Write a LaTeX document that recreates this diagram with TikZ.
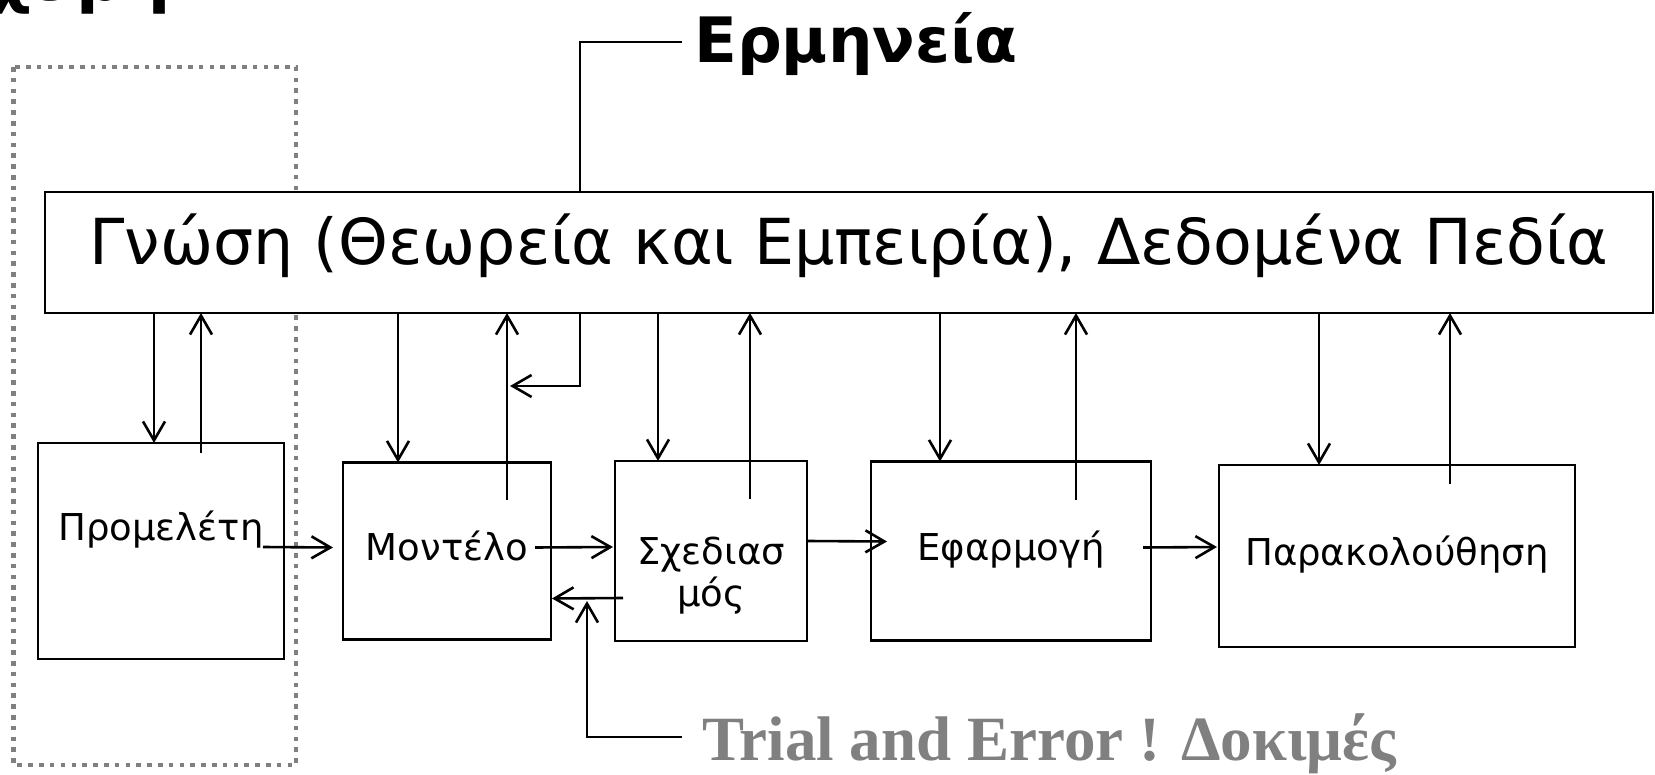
\documentclass[tikz,border=0pt]{standalone}
\usepackage{fontspec}
\setmainfont{DejaVu Sans}
\newfontfamily\serifbold{Liberation Serif}
\usetikzlibrary{arrows.meta,positioning,calc}
\definecolor{dGray}{RGB}{128,128,128}

\begin{document}
\begin{tikzpicture}[
			x=0.5pt,y=-0.5pt,
			>={Straight Barb[length=9.5pt,width=11pt]},
			b/.style={
				draw,
				line width=1.3pt,
				inner sep=0pt,
				outer sep=0pt,
				align=center,
				text height=14pt,
				text depth=4.5pt,
				font=\fontsize{18.5}{21}\selectfont
			},
			k/.style={
				draw,
				fill=white,
				line width=1.3pt,
				inner sep=0pt,
				outer sep=0pt,
				minimum width=804pt,
				minimum height=60.5pt,
				text height=24pt,
				text depth=11.5pt,
				font=\fontsize{31.7}{38}\selectfont
			},
			ln/.style={line width=1.3pt},
			ar/.style={->,line width=1.3pt}
			]
			\useasboundingbox (0,0) rectangle (1655,775);
			\draw[dGray,line width=2.3pt,dash pattern=on 2.3pt off 3.1pt](13.5,67) rectangle (296,765);
			\node[anchor=base west,inner sep=0pt,font=\fontsize{33}{40}\selectfont\bfseries](cut) at (-12,1){χάρη};
			\node[k](know) at (849,252.5){Γνώση (Θεωρεία και Εμπειρία), Δεδομένα Πεδία};
			\node[b,minimum width=123pt,minimum height=108pt,text depth=25pt](prom) at (161,551){Προμελέτη};
			\node[b,minimum width=104pt,minimum height=88.5pt,right=29.5pt of prom](mod){Μοντέλο};
			\node[b,minimum width=96pt,minimum height=90pt,text height=60pt,right=32pt of mod](sch){Σχεδιασ\\μός};
			\node[b,minimum width=140pt,minimum height=89.5pt,right=32pt of sch](efa){Εφαρμογή};
			\node[b,minimum width=178pt,minimum height=91pt,right=34pt of efa,yshift=-2.5pt](par){Παρακολούθηση};
			\node[anchor=base west,inner xsep=6pt,inner ysep=0pt,font=\fontsize{31.3}{38}\selectfont\bfseries](erm) at (682,63){Ερμηνεία};
			\node[anchor=base west,inner xsep=10pt,inner ysep=0pt,text=dGray,font=\fontsize{31.5}{36}\selectfont\serifbold\bfseries](tri) at (682,760){Trial and Error ! Δοκιμές};
			\coordinate(ermx) at (580,42);
			\coordinate(ermin) at (510,386);
			\draw[ln](erm.west |- ermx)--(ermx)--(ermx |- know.north);
			\draw[ar](ermx |- know.south)|-(ermin);
			\foreach \n/\dx/\ux/\us in {prom/154/201/10,mod/398/507/37,sch/658/750/38,efa/940/1076/38,par/1319/1450/19}{
				\draw[ar](know.south -| \dx,0)--(\n.north -| \dx,0);
				\draw[ar]($(\n.north -| \ux,0)+(0,\us)$)--(know.south -| \ux,0);
			}
			\draw[ar]($(prom.east)+(-21,-4)$)--($(mod.west)+(-10,-3.5)$);
			\draw[ar]($(mod.east)+(-16,-3.5)$)--($(sch.west)+(-2,-4)$);
			\draw[ar]($(sch.east)+(0,-10)$)--($(efa.west)+(16,-9.5)$);
			\draw[ar]($(efa.east)+(-8,-3.5)$)--($(par.west)+(-2,-9)$);
			\draw[ar]($(sch.west)+(8,47)$)--($(mod.east)+(1,47.5)$);
			\coordinate(trc) at (587,737);
			\coordinate(trtip) at (587,601);
			\draw[ar](tri.west |- trc)--(trc)--(trtip);
		\end{tikzpicture}
\end{document}
